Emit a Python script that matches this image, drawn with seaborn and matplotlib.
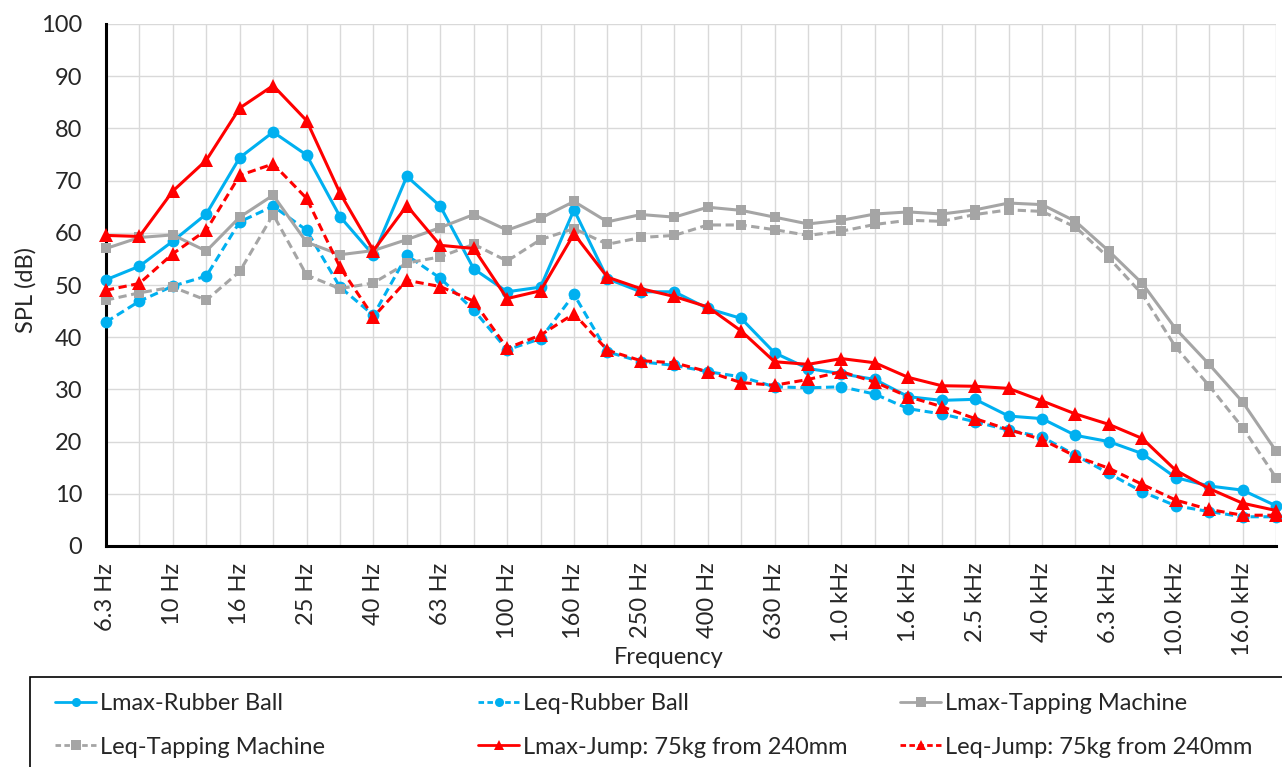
import numpy as np
import pandas as pd
import matplotlib
matplotlib.use("Agg")
import matplotlib.pyplot as plt
from matplotlib.lines import Line2D
from matplotlib.patches import Rectangle
import seaborn as sns

freqs = ["6.3 Hz", "8 Hz", "10 Hz", "12.5 Hz", "16 Hz", "20 Hz", "25 Hz", "31.5 Hz", "40 Hz",
         "50 Hz", "63 Hz", "80 Hz", "100 Hz", "125 Hz", "160 Hz", "200 Hz", "250 Hz", "315 Hz",
         "400 Hz", "500 Hz", "630 Hz", "800 Hz", "1.0 kHz", "1.25 kHz", "1.6 kHz", "2.0 kHz",
         "2.5 kHz", "3.15 kHz", "4.0 kHz", "5.0 kHz", "6.3 kHz", "8.0 kHz", "10.0 kHz",
         "12.5 kHz", "16.0 kHz", "20.0 kHz"]

lmax_rubber = [51.0, 53.6, 58.4, 63.6, 74.4, 79.3, 74.9, 63.1, 55.7,
               70.8, 65.1, 53.1, 48.7, 49.6, 64.4, 51.2, 48.7, 48.7,
               45.5, 43.6, 37.0, 34.0, 33.0, 31.9, 28.6, 27.9,
               28.1, 24.9, 24.4, 21.2, 20.0, 17.7, 13.1, 11.5, 10.7, 7.7]
leq_rubber = [42.9, 46.9, 49.8, 51.7, 62.1, 65.1, 60.5, 49.6, 44.2,
              55.7, 51.3, 45.2, 37.6, 39.7, 48.2, 37.2, 35.3, 34.6,
              33.4, 32.4, 30.5, 30.3, 30.5, 29.1, 26.3, 25.3,
              23.8, 22.2, 20.9, 17.4, 13.9, 10.4, 7.7, 6.6, 5.6, 5.6]
lmax_tapping = [57.0, 59.1, 59.6, 56.5, 63.0, 67.2, 58.2, 55.8, 56.6,
                58.7, 61.0, 63.5, 60.5, 62.8, 66.0, 62.1, 63.5, 63.0,
                64.9, 64.3, 63.0, 61.7, 62.4, 63.6, 64.0, 63.6,
                64.4, 65.7, 65.4, 62.2, 56.5, 50.3, 41.6, 34.8, 27.6, 18.2]
leq_tapping = [47.1, 48.5, 49.6, 47.1, 52.6, 63.5, 51.9, 49.3, 50.4,
               54.2, 55.4, 57.8, 54.6, 58.7, 60.8, 57.8, 59.1, 59.5,
               61.5, 61.5, 60.6, 59.5, 60.3, 61.6, 62.4, 62.2,
               63.5, 64.4, 64.1, 61.1, 55.2, 48.2, 38.1, 30.7, 22.7, 13.1]
lmax_jump = [59.5, 59.3, 68.0, 73.9, 83.9, 88.2, 81.5, 67.6, 56.6,
             65.2, 57.6, 57.0, 47.4, 48.9, 59.8, 51.5, 49.3, 47.8,
             45.8, 41.2, 35.3, 34.8, 35.9, 35.1, 32.3, 30.7,
             30.6, 30.2, 27.8, 25.3, 23.3, 20.6, 14.5, 11.0, 8.2, 6.8]
leq_jump = [49.0, 50.3, 56.0, 60.5, 71.0, 73.2, 66.6, 53.4, 43.9,
            50.9, 49.7, 46.9, 37.9, 40.4, 44.5, 37.5, 35.5, 35.1,
            33.4, 31.3, 30.8, 31.9, 33.4, 31.4, 28.6, 26.7,
            24.4, 22.3, 20.4, 17.2, 14.9, 11.8, 8.8, 7.0, 5.9, 5.9]

series_names = ["Lmax-Rubber Ball", "Leq-Rubber Ball", "Lmax-Tapping Machine",
                "Leq-Tapping Machine", "Lmax-Jump: 75kg from 240mm", "Leq-Jump: 75kg from 240mm"]
series_values = [lmax_rubber, leq_rubber, lmax_tapping, leq_tapping, lmax_jump, leq_jump]
series_colors = ["#00B0F0", "#00B0F0", "#A5A5A5", "#A5A5A5", "#FF0000", "#FF0000"]
series_markers = ["o", "o", "s", "s", "^", "^"]
series_dashed = [False, True, False, True, False, True]
series_msize = [8.5, 8.5, 7.5, 7.5, 9.5, 9.5]

sns.set_theme(style="white")
plt.rcParams["font.family"] = ["Lato", "DejaVu Sans"]
plt.rcParams["xtick.major.pad"] = 12
plt.rcParams["ytick.major.pad"] = 17
FS = 17

W, H = 1282, 767
fig = plt.figure(figsize=(W / 100, H / 100), dpi=100)
ax = fig.add_axes([106 / W, 1 - 546 / H, (1276 - 106) / W, (546 - 24) / H])

x = np.arange(len(freqs))
handles = []
for name, vals, col, mk, dsh, ms in zip(series_names, series_values, series_colors,
                                        series_markers, series_dashed, series_msize):
    df = pd.DataFrame({"idx": x, "val": vals})
    sns.lineplot(data=df, x="idx", y="val", ax=ax, color=col, marker=mk, markersize=ms,
                 markeredgewidth=0, linewidth=2.2, clip_on=False, zorder=3)
    ln = ax.lines[-1]
    if dsh:
        ln.set_dashes((2.7, 1.5))
    h = Line2D([], [], color=col, marker=mk, markersize=6.5 if mk != "^" else 7.5,
               markeredgewidth=0, linewidth=2.0)
    if dsh:
        h.set_dashes((2.0, 1.2))
    handles.append(h)

ax.set_xlim(0, len(freqs) - 1)
ax.set_ylim(0, 100)
ax.set_yticks(np.arange(0, 101, 10))
ax.set_xticks(x)
ax.set_xticklabels([f if i % 2 == 0 else "" for i, f in enumerate(freqs)], rotation=90,
                   fontsize=FS, va="top")
ax.tick_params(axis="y", labelsize=FS, direction="in", length=7, width=2, pad=17, color="black")
ax.tick_params(axis="x", direction="in", length=7, width=2, pad=12, color="black")

ax.grid(True, color="#D9D9D9", linewidth=1.0, zorder=0)
ax.set_axisbelow(True)
for s in ["top", "right"]:
    ax.spines[s].set_visible(False)
for s in ["left", "bottom"]:
    ax.spines[s].set_color("black")
    ax.spines[s].set_linewidth(2.2)
    ax.spines[s].set_zorder(2)

ax.set_xlabel("Frequency", fontsize=FS)
ax.xaxis.set_label_coords((669 - 106) / 1170, (546 - 657) / 522)
ax.xaxis.label.set_verticalalignment("center")
ax.set_ylabel("SPL (dB)", fontsize=FS)
ax.yaxis.set_label_coords((26 - 106) / 1170, (546 - 290) / 522)
ax.yaxis.label.set_verticalalignment("center")

# legend box (extends past the figure edge like the reference)
rect = Rectangle((30 / W, -0.1), 1.2, (1 - 677 / H) + 0.1, transform=fig.transFigure,
                 fill=False, edgecolor="black", linewidth=1.2, clip_on=False)
fig.patches.append(rect)

col_x = [55, 478, 900]
for c in range(3):
    hs = [handles[c], handles[c + 3]]
    ls = [series_names[c], series_names[c + 3]]
    fig.legend(hs, ls, loc="upper left", bbox_to_anchor=(col_x[c] / W, 1 - 693 / H),
               frameon=False, fontsize=FS, handlelength=1.75, handletextpad=0.15,
               labelspacing=0.96, borderpad=0, borderaxespad=0)

fig.savefig("out.png", dpi=100)
